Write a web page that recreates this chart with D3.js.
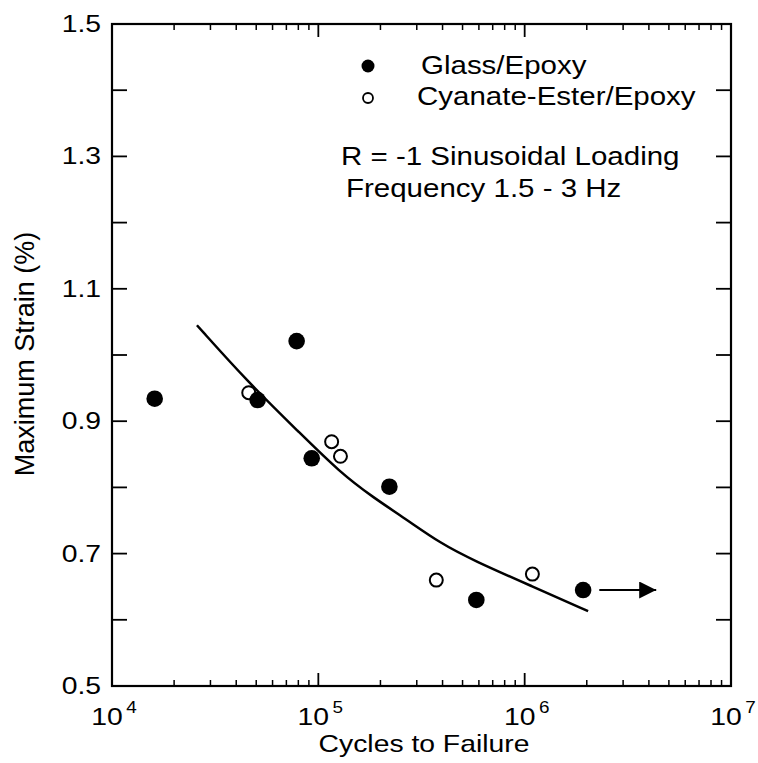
<!DOCTYPE html>
<html>
<head>
<meta charset="utf-8">
<script src="https://cdn.jsdelivr.net/npm/d3@7"></script>
<style>
  body { margin: 0; background: #fff; }
  text { font-family: "Liberation Sans", Arial, Helvetica, sans-serif; fill: #000; }
</style>
</head>
<body>
<script>
// glass/epoxy (filled dots)
var glassCycles = [16100, 50800, 78500, 92900, 221000, 583000, 1920000];
var glassStrain = [0.934, 0.932, 1.021, 0.844, 0.801, 0.630, 0.645];

// cyanate-ester/epoxy (open dots)
var cyanCycles = [46000, 116000, 128000, 373000, 1090000];
var cyanStrain = [0.943, 0.869, 0.847, 0.660, 0.669];

// fit curve
var fitCycles = [25800, 45600, 81500, 127000, 184000, 269000, 389000, 562000, 1096000, 2030000];
var fitStrain = [1.045, 0.959, 0.882, 0.823, 0.785, 0.751, 0.716, 0.690, 0.650, 0.613];

// runout arrow (last glass point, did not fail)
var runoutFrom = [2300000, 0.645];
var runoutTo = [4340000, 0.645];

var yTickValues = [0.5, 0.6, 0.7, 0.8, 0.9, 1.0, 1.1, 1.2, 1.3, 1.4, 1.5];
var yTickLabels = ["0.5", "0.7", "0.9", "1.1", "1.3", "1.5"];
var xDecades = [4, 5, 6, 7];

var legendNames = ["Glass/Epoxy", "Cyanate-Ester/Epoxy"];
var noteLines = ["R = -1 Sinusoidal Loading", "Frequency 1.5 - 3 Hz"];

var W = 758, H = 763;
var pL = 112, pR = 731, pT = 24, pB = 686;
var sx = 1.18; // scanned text is wider than the font

var svg = d3.select("body").append("svg")
    .attr("width", W)
    .attr("height", H);

var x = d3.scaleLog().domain([1e4, 1e7]).range([pL, pR]);
var y = d3.scaleLinear().domain([0.5, 1.5]).range([pB, pT]);

// minor log ticks
var minor = [];
xDecades.slice(0, 3).forEach(function(d) {
  for (var k = 2; k <= 9; k++) minor.push(k * Math.pow(10, d));
});

var axes = svg.append("g").attr("stroke", "#000");

// ticks on bottom and top
[pB, pT].forEach(function(yy) {
  var dir = yy == pB ? -1 : 1;
  axes.selectAll(null).data(minor).enter().append("line")
    .attr("x1", d => x(d)).attr("x2", d => x(d))
    .attr("y1", yy).attr("y2", yy + dir * 6)
    .attr("stroke-width", 1.5);
  axes.selectAll(null).data(xDecades.slice(1, 3)).enter().append("line")
    .attr("x1", d => x(Math.pow(10, d))).attr("x2", d => x(Math.pow(10, d)))
    .attr("y1", yy).attr("y2", yy + dir * 13)
    .attr("stroke-width", 1.8);
});

// ticks on left and right
[pL, pR].forEach(function(xx) {
  var dir = xx == pL ? 1 : -1;
  axes.selectAll(null).data(yTickValues.slice(1, -1)).enter().append("line")
    .attr("x1", xx).attr("x2", xx + dir * 15)
    .attr("y1", d => y(d)).attr("y2", d => y(d))
    .attr("stroke-width", 1.8);
});

axes.append("rect")
    .attr("x", pL).attr("y", pT)
    .attr("width", pR - pL).attr("height", pB - pT)
    .attr("fill", "none")
    .attr("stroke-width", 2.2);

// y tick labels
yTickLabels.forEach(function(t) {
  svg.append("text")
    .attr("transform", "translate(" + (pL - 11) + "," + (y(+t) + 8) + ") scale(" + sx + ",1)")
    .attr("text-anchor", "end")
    .attr("font-size", 24)
    .text(t);
});

// x tick labels 10^n
xDecades.forEach(function(d) {
  var t = svg.append("text")
    .attr("transform", "translate(" + (x(Math.pow(10, d)) + 2) + ",725) scale(" + sx + ",1)")
    .attr("text-anchor", "middle")
    .attr("font-size", 24);
  t.append("tspan").text("10");
  t.append("tspan").attr("dx", 3).attr("dy", -12).attr("font-size", 16).text(d);
});

// axis titles
svg.append("text")
    .attr("transform", "translate(424,752) scale(" + sx + ",1)")
    .attr("text-anchor", "middle")
    .attr("font-size", 24)
    .text("Cycles to Failure");

svg.append("text")
    .attr("transform", "translate(34,354) rotate(-90)")
    .attr("text-anchor", "middle")
    .attr("font-size", 27)
    .text("Maximum Strain (%)");

// fit line
var fit = fitCycles.map((c, i) => [c, fitStrain[i]]);
svg.append("path")
    .datum(fit)
    .attr("fill", "none")
    .attr("stroke", "#000")
    .attr("stroke-width", 2.5)
    .attr("d", d3.line().x(d => x(d[0])).y(d => y(d[1])).curve(d3.curveBasis));

// runout arrow
svg.append("defs").append("marker")
    .attr("id", "head")
    .attr("viewBox", "0 0 10 10")
    .attr("refX", 10).attr("refY", 5)
    .attr("markerUnits", "userSpaceOnUse")
    .attr("markerWidth", 27).attr("markerHeight", 17)
    .attr("orient", "auto")
    .append("path").attr("d", "M0,0L10,5L0,10Z").attr("fill", "#000");

svg.append("line")
    .attr("x1", x(runoutFrom[0])).attr("y1", y(runoutFrom[1]))
    .attr("x2", x(runoutTo[0])).attr("y2", y(runoutTo[1]))
    .attr("stroke", "#000")
    .attr("stroke-width", 2)
    .attr("marker-end", "url(#head)");

// points
var glass = glassCycles.map((c, i) => [c, glassStrain[i]]);
var cyan = cyanCycles.map((c, i) => [c, cyanStrain[i]]);

svg.selectAll(".cyan").data(cyan).enter().append("circle")
    .attr("class", "cyan")
    .attr("cx", d => x(d[0])).attr("cy", d => y(d[1]))
    .attr("r", 6.5)
    .attr("fill", "#fff")
    .attr("stroke", "#000")
    .attr("stroke-width", 2);

svg.selectAll(".glass").data(glass).enter().append("circle")
    .attr("class", "glass")
    .attr("cx", d => x(d[0])).attr("cy", d => y(d[1]))
    .attr("r", 8.3)
    .attr("fill", "#000");

// legend
svg.append("circle").attr("cx", 368).attr("cy", 66).attr("r", 6.5).attr("fill", "#000");
svg.append("circle").attr("cx", 368).attr("cy", 98).attr("r", 5).attr("fill", "none")
    .attr("stroke", "#000").attr("stroke-width", 1.8);

legendNames.forEach(function(n, i) {
  svg.append("text")
    .attr("transform", "translate(" + (i == 0 ? 421 : 417) + "," + (74 + i * 31) + ") scale(" + sx + ",1)")
    .attr("font-size", 25)
    .text(n);
});

noteLines.forEach(function(n, i) {
  svg.append("text")
    .attr("transform", "translate(" + (i == 0 ? 341 : 346) + "," + (165 + i * 32) + ") scale(" + sx + ",1)")
    .attr("font-size", 25)
    .text(n);
});
</script>
</body>
</html>
